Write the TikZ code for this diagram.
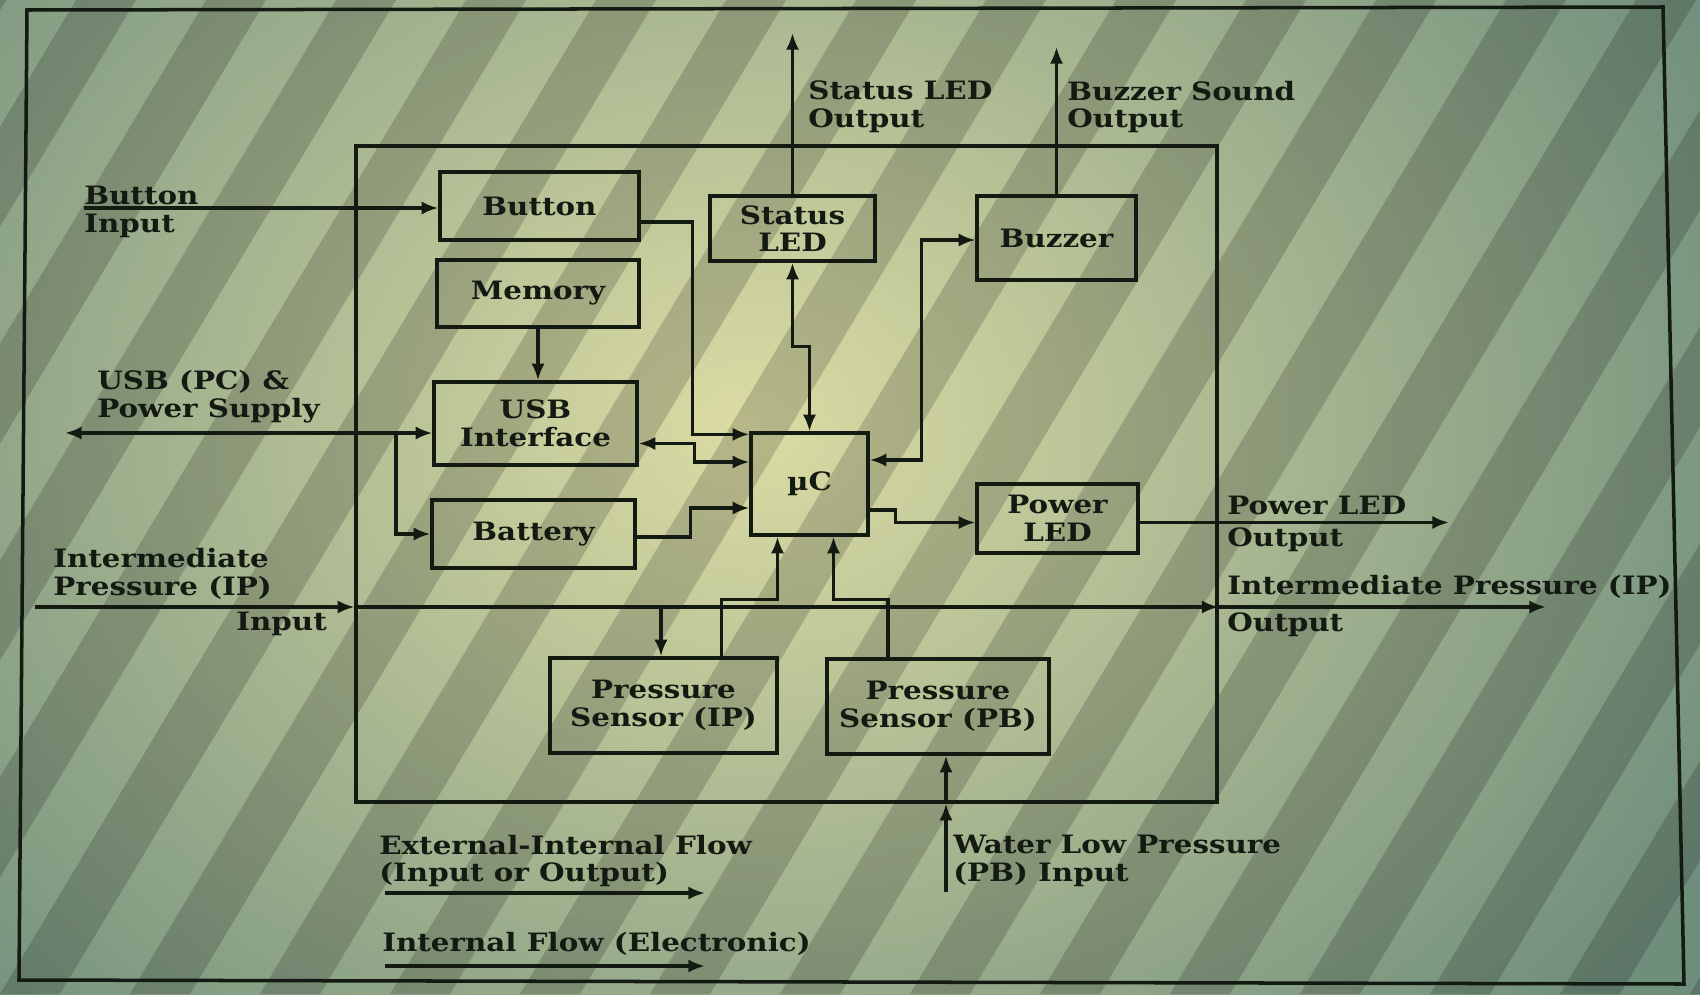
\documentclass[tikz,border=0pt]{standalone}
\usepackage{fontspec}
\setmainfont{DejaVu Serif}[FakeStretch=1.16]
\usetikzlibrary{arrows.meta,calc}
\definecolor{ink}{HTML}{131A12}
\definecolor{bgin}{HTML}{DCDCA4}
\definecolor{bgout}{HTML}{6F8E7C}
\tikzset{
  lbl/.style={font=\fontsize{14.4}{15.8}\selectfont\bfseries, text=ink, inner sep=0pt},
  blk/.style={draw=ink, line width=1.9pt, align=center, lbl},
  wire/.style={draw=ink, line width=1.8pt},
  arr/.style={wire, -{Latex[length=9.5pt,width=7.5pt]}},
  darr/.style={wire, {Latex[length=9.5pt,width=7.5pt]}-{Latex[length=9.5pt,width=7.5pt]}},
}
\begin{document}
\begin{tikzpicture}[x=0.02cm,y=-0.02cm]
\useasboundingbox (0,0) rectangle (1700,994);
% background (photographed screen with stripes)
\begin{scope}
\clip (0,0) rectangle (1700,994);
\shade[inner color=bgin, outer color=bgout] (-350,-480) rectangle (1850,1330);
\foreach \i in {-6,...,14} {
  \fill[black, opacity=0.17] ({\i*130},994) -- ({\i*130+60},994) -- ({\i*130+656},0) -- ({\i*130+596},0) -- cycle;
}
\end{scope}
% outer frame
\draw[ink, line width=2pt] (27,10) -- (1663,7) -- (1684,984) -- (19,980) -- cycle;
% system box
\node[draw=ink, line width=1.9pt, minimum width=17.22cm, minimum height=13.12cm, inner sep=0pt] (sys) at (786.5,474) {};
% blocks
\node[blk, minimum width=3.98cm, minimum height=1.36cm] (button) at (539.5,206) {Button};
\node[blk, minimum width=4.04cm, minimum height=1.34cm] (memory) at (538,293.5) {Memory};
\node[blk, minimum width=4.06cm, minimum height=1.66cm] (usb) at (535.5,423.5) {USB\\Interface};
\node[blk, minimum width=4.06cm, minimum height=1.36cm] (battery) at (533.5,534) {Battery};
\node[blk, minimum width=3.30cm, minimum height=1.30cm] (sled) at (792.5,228.5) {Status\\LED};
\node[blk, minimum width=3.18cm, minimum height=1.68cm] (buzzer) at (1056.5,238) {Buzzer};
\node[blk, minimum width=2.34cm, minimum height=2.04cm] (uc) at (809.5,484) {µC};
\node[blk, minimum width=3.22cm, minimum height=1.38cm] (pled) at (1057.5,518.5) {Power\\LED};
\node[blk, minimum width=4.54cm, minimum height=1.90cm] (psip) at (663.5,705.5) {Pressure\\Sensor (IP)};
\node[blk, minimum width=4.44cm, minimum height=1.90cm] (pspb) at (938,706.5) {Pressure\\Sensor (PB)};
% free ends
\coordinate (bin) at (84,208);
\coordinate (sledout) at (792.5,33);
\coordinate (buzout) at (1056.5,47);
\coordinate (usbps) at (65,433);
\coordinate (br) at (396,433);
\coordinate (pledout) at (1449,522.5);
\coordinate (ipin) at (35,607);
\coordinate (ipout) at (1546,607);
\coordinate (ipj) at (661,607);
\coordinate (wlp) at (946,892);
\coordinate (legA1) at (385,893);
\coordinate (legA2) at (705,893);
\coordinate (legB1) at (385,966);
\coordinate (legB2) at (705,966);
% connectors
\draw[arr] (bin) -- (bin -| button.west);
\draw[arr] ($(button.east)+(0,16)$) -| ($(uc.north west)+(-57,3)$) -- ($(uc.north west)+(0,3)$);
\draw[arr] (memory.south) -- (memory.south |- usb.north);
\draw[darr] (usbps) -- (usbps -| usb.west);
\draw[arr] (br) |- (battery.west);
\draw[darr] ($(usb.east)+(0,20)$) -| ($(uc.west)+(-55,-22)$) -- ($(uc.west)+(0,-22)$);
\draw[arr] ($(battery.east)+(0,3)$) -| ($(uc.west)+(-59,24)$) -- ($(uc.west)+(0,24)$);
\draw[darr] (sled.south) |- ($(uc.north)+(0,-85)$) -- (uc.north);
\draw[arr] (sled.north) -- (sledout);
\draw[arr] (buzzer.north) -- (buzout);
\draw[darr] ($(uc.east)+(0,-24)$) -| ($(buzzer.west)+(-54,2)$) -- ($(buzzer.west)+(0,2)$);
\draw[arr] ($(uc.east)+(0,26)$) -| ($(pled.west)+(-80,4)$) -- ($(pled.west)+(0,4)$);
\draw[arr] ($(pled.east)+(0,4)$) -- (pledout);
\draw[arr] (ipin) -- (ipin -| sys.west);
\draw[arr] (ipin -| sys.west) -- (ipin -| sys.east);
\draw[arr] (ipin -| sys.east) -- (ipout);
\draw[arr] (ipj) -- (ipj |- psip.north);
\draw[arr] ($(psip.north)+(58,0)$) |- ($(uc.south)+(-32,63)$) -- ($(uc.south)+(-32,0)$);
\draw[arr] ($(pspb.north)+(-50,0)$) |- ($(uc.south)+(24,63)$) -- ($(uc.south)+(24,0)$);
\draw[arr] (wlp) -- (wlp |- sys.south);
\draw[arr] (wlp |- sys.south) -- (wlp |- pspb.south);
\draw[arr, line width=2.2pt] (legA1) -- (legA2);
\draw[arr] (legB1) -- (legB2);
% labels
\node[lbl, anchor=west, align=left] (lbin) at (84,212) {Button\\Input};
\node[lbl, anchor=west, align=left] (lsled) at (808,107) {Status LED\\Output};
\node[lbl, anchor=west, align=left] (lbuz) at (1067,107) {Buzzer Sound\\Output};
\node[lbl, anchor=west, align=left] (lusb) at (97,397) {USB (PC) \&\\Power Supply};
\node[lbl, anchor=west, align=left] (lipin) at (53,574) {Intermediate\\Pressure (IP)};
\node[lbl, anchor=west] (linput) at (236,624) {Input};
\node[lbl, anchor=west] (lpled) at (1227,505) {Power LED};
\node[lbl, anchor=west] (lpledo) at (1227,540) {Output};
\node[lbl, anchor=west] (lipout) at (1227,587) {Intermediate Pressure (IP)};
\node[lbl, anchor=west] (lipouto) at (1227,625) {Output};
\node[lbl, anchor=west, align=left] (lwlp) at (953,861) {Water Low Pressure\\(PB) Input};
\node[lbl, anchor=west, align=left] (lext) at (379,861) {External-Internal Flow\\(Input or Output)};
\node[lbl, anchor=west] (lint) at (382,944) {Internal Flow (Electronic)};
\end{tikzpicture}
\end{document}
